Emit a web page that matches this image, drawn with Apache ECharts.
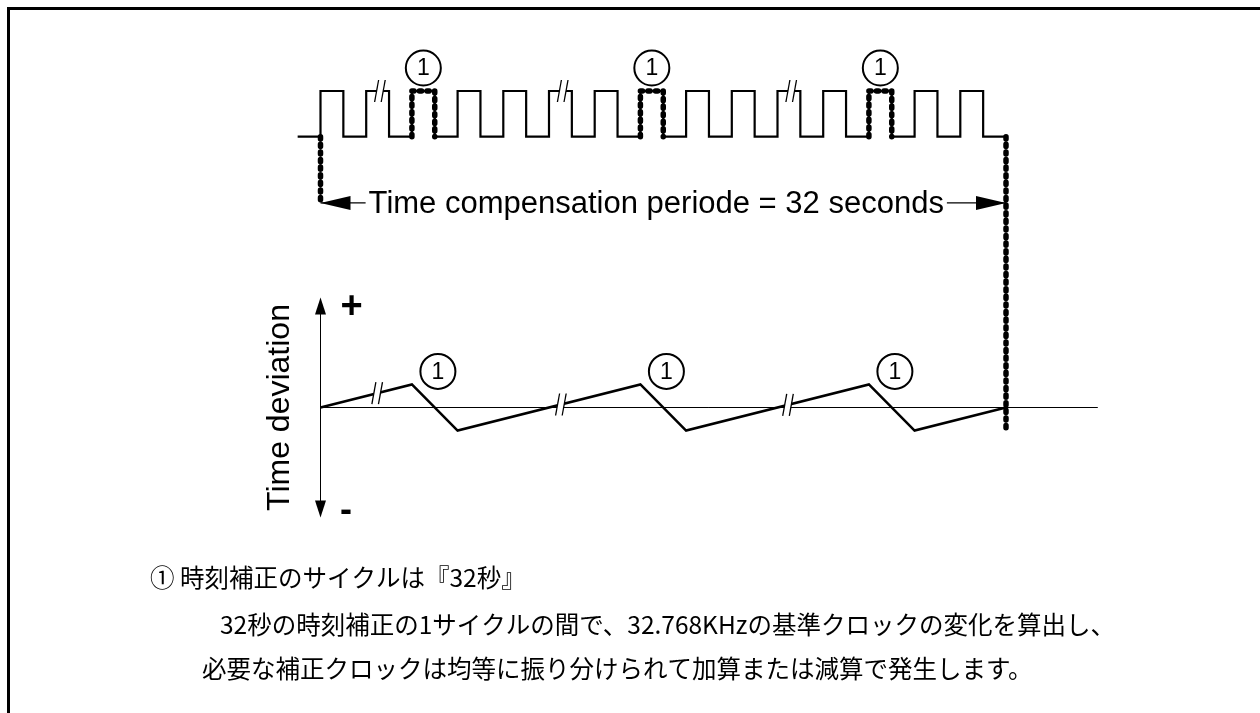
<!DOCTYPE html>
<html><head><meta charset="utf-8">
<script src="https://cdn.jsdelivr.net/npm/echarts@6/dist/echarts.min.js"></script>
<style>html,body{margin:0;padding:0;background:#fff}#c{width:1260px;height:713px}</style>
</head><body><div id="c"></div>
<script>
// ---- data (x in clock periods, signal level 0/1, deviation units) ----
const pulseRise = [0, 1, 2, 3, 4, 5, 6, 7, 8, 9, 10, 11, 12, 13, 14];
const pulseFall = [0.5, 1.5, 2.5, 3.5, 4.5, 5.5, 6.5, 7.5, 8.5, 9.5, 10.5, 11.5, 12.5, 13.5, 14.5];
const signalStart = -0.5;
const signalEnd = 15;
const compensatedPulses = [2, 7, 12];
const signalBreaks = [1.3, 5.3, 10.3];
const periodBounds = [0, 15];
const arrowLevel = -1.45;
const markerBottom = -6.45;
const deviationX = [0, 2, 3, 7, 8, 12, 13, 15];
const deviationY = [0, 1, -1, 1, -1, 1, -1, 0];
const deviationBreaks = [1.24, 5.26, 10.23];
const periodLabel = 'Time compensation periode = 32 seconds';
const axisTitle = 'Time deviation';
const plusLabel = '+';
const minusLabel = '-';
const circleLabel = '1';
const noteLines = [
  '① 時刻補正のサイクルは『32秒』',
  '32秒の時刻補正の1サイクルの間で、32.768KHzの基準クロックの変化を算出し、',
  '必要な補正クロックは均等に振り分けられて加算または減算で発生します。'
];

// ---- build series data ----
const signalData = [[signalStart, 0]];
pulseRise.forEach((r, i) => { signalData.push([r, 0], [r, 1], [pulseFall[i], 1], [pulseFall[i], 0]); });
signalData.push([signalEnd, 0]);
const dottedPulses = compensatedPulses.map(k => {
  const i = pulseRise.indexOf(k);
  return [[pulseRise[i], 0], [pulseRise[i], 1], [pulseFall[i], 1], [pulseFall[i], 0]];
});
const deviationData = deviationX.map((x, i) => [x, deviationY[i]]);
function onLine(x) {
  for (let i = 0; i < deviationX.length - 1; i++) {
    if (x >= deviationX[i] && x <= deviationX[i + 1]) {
      const t = (x - deviationX[i]) / (deviationX[i + 1] - deviationX[i]);
      return deviationY[i] + t * (deviationY[i + 1] - deviationY[i]);
    }
  }
  return 0;
}
const deviationBreakData = deviationBreaks.map(x => [x, onLine(x)]);

const FONT = '"Liberation Sans", Arial, sans-serif';
const JP = '"Noto Sans CJK JP", sans-serif';
const dotStyle = { color: '#000', width: 5.5, type: [2.2, 5.4], cap: 'round', join: 'round' };

function breakMark(api) {
  const p = api.coord([api.value(0), api.value(1)]);
  const h = 11, s = 2, g = 3.3;
  const c1 = p[0] - g, c2 = p[0] + g;
  return { type: 'group', children: [
    { type: 'polygon', shape: { points: [[c1 - s * 0.6, p[1] + h * 0.6], [c1 + s * 0.6, p[1] - h * 0.6], [c2 + s * 0.6, p[1] - h * 0.6], [c2 - s * 0.6, p[1] + h * 0.6]] }, style: { fill: '#fff' } },
    { type: 'line', shape: { x1: c1 - s, y1: p[1] + h, x2: c1 + s, y2: p[1] - h }, style: { stroke: '#000', lineWidth: 1.3 } },
    { type: 'line', shape: { x1: c2 - s, y1: p[1] + h, x2: c2 + s, y2: p[1] - h }, style: { stroke: '#000', lineWidth: 1.3 } }
  ]};
}
function circleMark(dx, dy) {
  return function (params, api) {
    const p = api.coord([api.value(0), api.value(1)]);
    const cx = p[0] + dx, cy = p[1] + dy;
    return { type: 'group', children: [
      { type: 'circle', shape: { cx: cx, cy: cy, r: 17.5 }, style: { fill: '#fff', stroke: '#000', lineWidth: 2 } },
      { type: 'text', style: { text: circleLabel, x: cx, y: cy + 1, align: 'center', verticalAlign: 'middle', font: '23px ' + FONT, fill: '#000' } }
    ]};
  };
}

const series = [];
series.push({ type: 'line', xAxisIndex: 0, yAxisIndex: 0, data: signalData, symbol: 'none', clip: false, z: 2,
  lineStyle: { color: '#000', width: 2.2, join: 'miter' } });
dottedPulses.forEach(d => series.push({ type: 'line', xAxisIndex: 0, yAxisIndex: 0, data: d, symbol: 'none', clip: false, z: 4, lineStyle: dotStyle }));
series.push({ type: 'line', xAxisIndex: 0, yAxisIndex: 0, data: [[periodBounds[0], 0], [periodBounds[0], arrowLevel]], symbol: 'none', clip: false, z: 4, lineStyle: dotStyle });
series.push({ type: 'line', xAxisIndex: 0, yAxisIndex: 0, data: [[periodBounds[1], 0], [periodBounds[1], markerBottom]], symbol: 'none', clip: false, z: 4, lineStyle: dotStyle });
series.push({ type: 'custom', xAxisIndex: 0, yAxisIndex: 0, z: 6, data: signalBreaks.map(x => [x, 1]), renderItem: (p, api) => breakMark(api) });
series.push({ type: 'custom', xAxisIndex: 0, yAxisIndex: 0, z: 6, data: compensatedPulses.map(k => { const i = pulseRise.indexOf(k); return [(pulseRise[i] + pulseFall[i]) / 2, 1]; }), renderItem: circleMark(0, -23) });
series.push({ type: 'custom', xAxisIndex: 0, yAxisIndex: 0, z: 6, data: [[periodBounds[0], periodBounds[1], arrowLevel]],
  renderItem: function (params, api) {
    const a = api.coord([api.value(0), api.value(2)]);
    const b = api.coord([api.value(1), api.value(2)]);
    const y = a[1], L = 30, W = 7;
    return { type: 'group', children: [
      { type: 'line', shape: { x1: a[0], y1: y, x2: b[0], y2: y }, style: { stroke: '#000', lineWidth: 1.3 } },
      { type: 'polygon', shape: { points: [[a[0], y], [a[0] + L, y - W], [a[0] + L, y + W]] }, style: { fill: '#000' } },
      { type: 'polygon', shape: { points: [[b[0], y], [b[0] - L, y - W], [b[0] - L, y + W]] }, style: { fill: '#000' } },
      { type: 'text', style: { text: periodLabel, x: (a[0] + b[0]) / 2 - 7, y: y + 1, align: 'center', verticalAlign: 'middle', font: '31px ' + FONT, fill: '#000', backgroundColor: '#fff', padding: [0, 3] } }
    ]};
  } });
// deviation panel
series.push({ type: 'line', xAxisIndex: 1, yAxisIndex: 1, data: deviationData, symbol: 'none', clip: false, z: 3,
  lineStyle: { color: '#000', width: 2.5, join: 'miter' } });
series.push({ type: 'custom', xAxisIndex: 1, yAxisIndex: 1, z: 6, data: deviationBreakData, renderItem: (p, api) => breakMark(api) });
series.push({ type: 'custom', xAxisIndex: 1, yAxisIndex: 1, z: 6, data: compensatedPulses.map(k => [k, onLine(k)]), renderItem: circleMark(26, -13) });

const hidden = { show: false };
const option = {
  animation: false,
  backgroundColor: '#fff',
  grid: [
    { left: 274.8, top: 91, width: 822.6, height: 45.7, containLabel: false },
    { left: 320.5, top: 306, width: 776.9, height: 203, containLabel: false }
  ],
  xAxis: [
    { type: 'value', gridIndex: 0, min: -1, max: 17, axisLine: hidden, axisTick: hidden, axisLabel: hidden, splitLine: hidden },
    { type: 'value', gridIndex: 1, min: 0, max: 17, axisLine: { show: true, onZero: true, lineStyle: { color: '#000', width: 1 } }, axisTick: hidden, axisLabel: hidden, splitLine: hidden }
  ],
  yAxis: [
    { type: 'value', gridIndex: 0, min: 0, max: 1, axisLine: hidden, axisTick: hidden, axisLabel: hidden, splitLine: hidden },
    { type: 'value', gridIndex: 1, min: -4.4, max: 4.4, axisLine: { show: true, onZero: true, symbol: ['triangle', 'triangle'], symbolSize: [11, 17], lineStyle: { color: '#000', width: 1 } },
      axisTick: hidden, axisLabel: hidden, splitLine: hidden,
      name: axisTitle, nameLocation: 'middle', nameRotate: 90, nameGap: 24,
      nameTextStyle: { fontSize: 32, fontFamily: FONT, color: '#000' } }
  ],
  graphic: [
    { type: 'polyline', shape: { points: [[8.5, 713], [8.5, 8.5], [1260, 8.5]] }, style: { stroke: '#000', lineWidth: 3, fill: null } },
    { type: 'text', x: 351.5, y: 308, style: { text: plusLabel, align: 'center', verticalAlign: 'middle', font: 'bold 38px ' + FONT, fill: '#000' } },
    { type: 'text', x: 346, y: 511, style: { text: minusLabel, align: 'center', verticalAlign: 'middle', font: 'bold 36px ' + FONT, fill: '#000' } },
    { type: 'text', x: 150, y: 578, style: { text: noteLines[0], verticalAlign: 'middle', font: '24.5px ' + JP, fill: '#000' } },
    { type: 'text', x: 220, y: 625, style: { text: noteLines[1], verticalAlign: 'middle', font: '24.5px ' + JP, fill: '#000' } },
    { type: 'text', x: 202, y: 669, style: { text: noteLines[2], verticalAlign: 'middle', font: '24.5px ' + JP, fill: '#000' } }
  ],
  series: series
};
const chart = echarts.init(document.getElementById('c'));
chart.setOption(option);
</script>
</body></html>
